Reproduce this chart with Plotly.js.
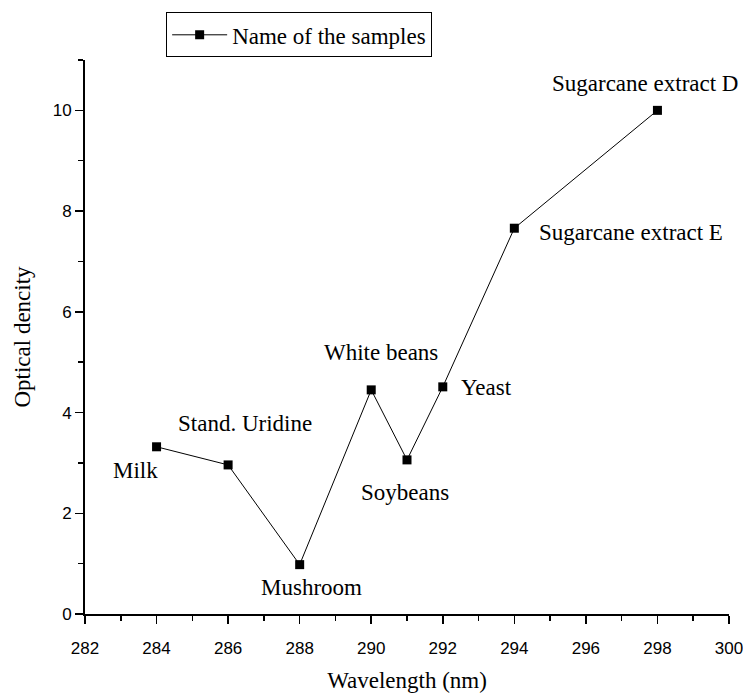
<!DOCTYPE html>
<html>
<head>
<meta charset="utf-8">
<script src="https://cdn.plot.ly/plotly-3.0.1.min.js"></script>
<style>html,body{margin:0;padding:0;background:#fff;}#chart{width:743px;height:696px;}</style>
</head>
<body>
<div id="chart"></div>
<script>
// Data
const wavelengths = [284, 286, 288, 290, 291, 292, 294, 298];
const density = [3.32, 2.96, 0.98, 4.45, 3.06, 4.51, 7.66, 10.0];
const sampleNames = ['Milk', 'Stand. Uridine', 'Mushroom', 'White beans', 'Soybeans', 'Yeast', 'Sugarcane extract E', 'Sugarcane extract D'];
const xTicks = [282, 284, 286, 288, 290, 292, 294, 296, 298, 300];
const yTicks = [0, 2, 4, 6, 8, 10];

// Label placement (pixel offsets from each point), style only
const labelShift = [[-21, -24], [17, 41], [12, -23], [10, 37], [-2, -33], [44, -1], [117, -4], [-12, 27]];

const serif = '"Liberation Serif", "Times New Roman", serif';
const sans = '"Liberation Sans", Arial, sans-serif';

const trace = {
  x: wavelengths,
  y: density,
  type: 'scatter',
  mode: 'lines+markers',
  name: 'Name of the samples',
  line: {color: '#000', width: 1},
  marker: {symbol: 'square', size: 9, color: '#000'},
  cliponaxis: false
};

const annotations = sampleNames.map((name, i) => ({
  x: wavelengths[i], y: density[i], xref: 'x', yref: 'y',
  text: name, showarrow: false,
  xshift: labelShift[i][0], yshift: labelShift[i][1],
  font: {family: serif, size: 23, color: '#000'}
}));

const axisCommon = {
  showline: true, linecolor: '#000', linewidth: 2,
  ticks: 'outside', ticklen: 8, tickwidth: 1.5, tickcolor: '#000',
  showgrid: false, zeroline: false,
  ticklabeloverflow: 'allow',
  tickfont: {family: sans, size: 17, color: '#000'}
};

const layout = {
  width: 743, height: 696,
  margin: {l: 85, r: 14, t: 55, b: 82},
  paper_bgcolor: '#fff', plot_bgcolor: '#fff',
  showlegend: true,
  legend: {
    x: 0.126, y: 1.086, xanchor: 'left', yanchor: 'top',
    bgcolor: '#fff', bordercolor: '#000', borderwidth: 1,
    font: {family: serif, size: 23, color: '#000'},
    itemwidth: 55
  },
  xaxis: Object.assign({}, axisCommon, {
    range: [282, 300], tickmode: 'linear', tick0: 282, dtick: 2,
    ticklabelstandoff: 10,
    minor: {dtick: 1, tick0: 282, ticks: 'outside', ticklen: 5, tickwidth: 1.5, tickcolor: '#000'},
    title: {text: 'Wavelength (nm)', font: {family: serif, size: 23, color: '#000'}, standoff: 14}
  }),
  yaxis: Object.assign({}, axisCommon, {
    range: [0, 11], tickvals: yTicks, ticktext: yTicks.map(String),
    minor: {dtick: 1, tick0: 0, ticks: 'outside', ticklen: 5, tickwidth: 1.5, tickcolor: '#000'},
    title: {text: 'Optical dencity', font: {family: serif, size: 23, color: '#000'}, standoff: 16}
  }),
  annotations: annotations
};

Plotly.newPlot('chart', [trace], layout, {displayModeBar: false, staticPlot: true});
</script>
</body>
</html>
